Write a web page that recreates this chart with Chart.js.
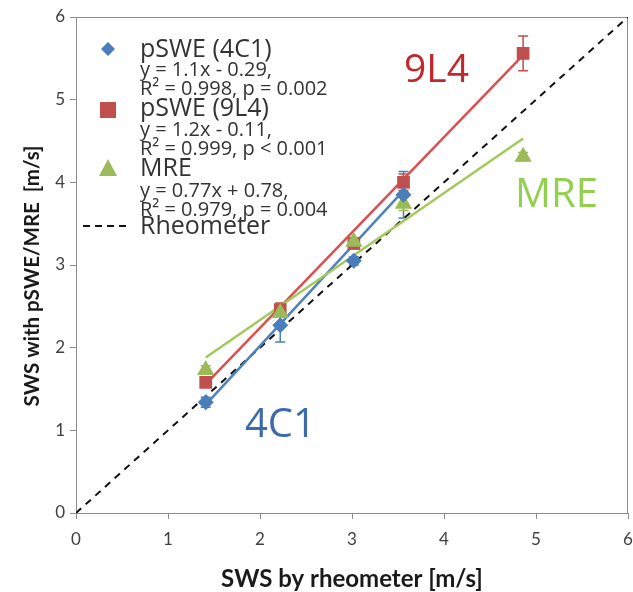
<!DOCTYPE html>
<html>
<head>
<meta charset="utf-8">
<script src="https://cdn.jsdelivr.net/npm/chart.js@4"></script>
<style>
  html, body { margin: 0; padding: 0; background: #fff; }
  #wrap { width: 633px; height: 592px; position: relative; }
</style>
</head>
<body>
<div id="wrap"><canvas id="c" width="633" height="592"></canvas></div>
<script>
// ---- data ----
const rheoX = [1.41, 2.22, 3.02, 3.56, 4.86];           // SWS by rheometer [m/s]
const swe4C1 = [1.34, 2.27, 3.05, 3.85];                  // pSWE (4C1), first 4 phantoms
const err4C1 = [0.06, 0.20, 0.05, 0.28];
const swe9L4 = [1.58, 2.46, 3.26, 4.00, 5.56];            // pSWE (9L4)
const err9L4 = [0.05, 0.08, 0.06, 0.10, 0.21];
const sweMRE = [1.73, 2.42, 3.28, 3.74, 4.31];            // MRE
const errMRE = [0.05, 0.05, 0.05, 0.08, 0.05];
// fitted trend line end points
const trend4C1X = [1.41, 3.56], trend4C1Y = [1.31, 3.90];
const trend9L4X = [1.41, 4.86], trend9L4Y = [1.56, 5.54];
const trendMREX = [1.41, 4.86], trendMREY = [1.88, 4.53];
const identityX = [0, 6], identityY = [0, 6];
const tickValues = [0, 1, 2, 3, 4, 5, 6];
const legendEntries = [
  { name: 'pSWE (4C1)', lines: ['y = 1.1x - 0.29,', 'R\u00B2 = 0.998, p = 0.002'] },
  { name: 'pSWE (9L4)', lines: ['y = 1.2x - 0.11,', 'R\u00B2 = 0.999, p < 0.001'] },
  { name: 'MRE', lines: ['y = 0.77x + 0.78,', 'R\u00B2 = 0.979, p = 0.004'] },
  { name: 'Rheometer', lines: [] }
];
const annotations = [
  { text: '9L4', color: '#C0282D' },
  { text: 'MRE', color: '#92D050' },
  { text: '4C1', color: '#3D6AA8' }
];

const BLUE = '#4A7EBB', RED = '#C0504D', GREEN = '#9BBB59';
const pts = (xs, ys) => ys.map((y, i) => ({ x: xs[i], y: y }));

const errorBars = {
  id: 'errorBars',
  beforeDatasetsDraw(chart) {
    const ctx = chart.ctx, xs = chart.scales.x, ys = chart.scales.y;
    const sets = [[swe4C1, err4C1, BLUE], [swe9L4, err9L4, RED], [sweMRE, errMRE, GREEN]];
    ctx.save();
    ctx.lineWidth = 1.5;
    sets.forEach(([vals, errs, col]) => {
      ctx.strokeStyle = col;
      vals.forEach((v, i) => {
        const px = xs.getPixelForValue(rheoX[i]);
        const t = ys.getPixelForValue(v + errs[i]);
        const b = ys.getPixelForValue(v - errs[i]);
        ctx.beginPath();
        ctx.moveTo(px, t); ctx.lineTo(px, b);
        ctx.moveTo(px - 5, t); ctx.lineTo(px + 5, t);
        ctx.moveTo(px - 5, b); ctx.lineTo(px + 5, b);
        ctx.stroke();
      });
    });
    ctx.restore();
  }
};

const frame = {
  id: 'frame',
  beforeDatasetsDraw(chart) {
    const a = chart.chartArea, ctx = chart.ctx;
    ctx.save();
    ctx.strokeStyle = '#8c8c8c';
    ctx.lineWidth = 1;
    ctx.strokeRect(a.left + 0.5, a.top + 0.5, a.right - a.left - 1, a.bottom - a.top);
    ctx.restore();
  }
};

const overlay = {
  id: 'overlay',
  afterDraw(chart) {
    const ctx = chart.ctx;
    ctx.save();
    // axis titles
    ctx.fillStyle = '#1a1a1a';
    ctx.textAlign = 'center';
    ctx.textBaseline = 'middle';
    ctx.font = 'bold 24px Lato, "Open Sans", sans-serif';
    ctx.fillText('SWS by rheometer [m/s]', 352, 579);
    ctx.save();
    ctx.translate(32, 276);
    ctx.rotate(-Math.PI / 2);
    ctx.font = 'bold 20.5px Lato, "Open Sans", sans-serif';
    ctx.fillText('SWS with pSWE/MRE  [m/s]', 0, 0);
    ctx.restore();

    // legend
    ctx.textAlign = 'left';
    ctx.textBaseline = 'alphabetic';
    ctx.fillStyle = '#333333';
    const tx = 140;
    const baselines = [[57, 76, 95], [116, 136, 155], [176, 197, 216], [234]];
    legendEntries.forEach((e, i) => {
      ctx.font = '25px "Open Sans", sans-serif';
      ctx.fillText(e.name, tx, baselines[i][0]);
      ctx.font = '20px "Open Sans", sans-serif';
      e.lines.forEach((l, j) => ctx.fillText(l, tx, baselines[i][j + 1]));
    });
    // legend markers
    ctx.fillStyle = BLUE;
    ctx.beginPath();
    ctx.moveTo(108, 42); ctx.lineTo(115, 49); ctx.lineTo(108, 56); ctx.lineTo(101, 49);
    ctx.closePath(); ctx.fill();
    ctx.fillStyle = RED;
    ctx.fillRect(100, 102, 16, 16);
    ctx.fillStyle = GREEN;
    ctx.beginPath();
    ctx.moveTo(108, 159); ctx.lineTo(117, 176); ctx.lineTo(99, 176);
    ctx.closePath(); ctx.fill();
    ctx.strokeStyle = '#111';
    ctx.lineWidth = 2;
    ctx.setLineDash([7, 5]);
    ctx.beginPath(); ctx.moveTo(83, 226); ctx.lineTo(131, 226); ctx.stroke();
    ctx.setLineDash([]);

    // annotations
    ctx.font = '39px "Open Sans", sans-serif';
    ctx.fillStyle = annotations[0].color;
    ctx.fillText(annotations[0].text, 404, 82);
    ctx.font = '40px "Open Sans", sans-serif';
    ctx.fillStyle = annotations[1].color;
    ctx.fillText(annotations[1].text, 515, 207);
    ctx.fillStyle = annotations[2].color;
    ctx.fillText(annotations[2].text, 245, 437);
    ctx.restore();
  }
};

new Chart(document.getElementById('c'), {
  type: 'scatter',
  data: {
    datasets: [
      { label: 'pSWE (4C1)', data: pts(rheoX, swe4C1), pointStyle: 'rectRot', pointRadius: 8,
        backgroundColor: BLUE, borderColor: BLUE, borderWidth: 0, order: 1 },
      { label: 'pSWE (9L4)', data: pts(rheoX, swe9L4), pointStyle: 'rect', pointRadius: 9,
        backgroundColor: RED, borderColor: RED, borderWidth: 0, order: 3 },
      { label: 'MRE', data: pts(rheoX, sweMRE), pointStyle: 'triangle', pointRadius: 10,
        backgroundColor: GREEN, borderColor: GREEN, borderWidth: 0, order: 2 },
      { label: 'trend 4C1', data: pts(trend4C1X, trend4C1Y), showLine: true, pointRadius: 0,
        borderColor: '#4F81BD', borderWidth: 2.5, order: 6 },
      { label: 'trend 9L4', data: pts(trend9L4X, trend9L4Y), showLine: true, pointRadius: 0,
        borderColor: '#D9514E', borderWidth: 2.5, order: 5 },
      { label: 'trend MRE', data: pts(trendMREX, trendMREY), showLine: true, pointRadius: 0,
        borderColor: '#A2C95C', borderWidth: 2.5, order: 4 },
      { label: 'Rheometer', data: pts(identityX, identityY), showLine: true, pointRadius: 0,
        borderColor: '#111', borderWidth: 2, borderDash: [7, 6], order: 7 }
    ]
  },
  options: {
    responsive: false,
    animation: false,
    layout: { autoPadding: false, padding: { left: 0, right: 5, top: 17, bottom: 0 } },
    plugins: { legend: { display: false }, tooltip: { enabled: false } },
    scales: {
      x: {
        type: 'linear', min: 0, max: 6,
        afterFit(s) { s.height = 79; s.paddingLeft = 0; s.paddingRight = 0; },
        afterBuildTicks(s) { s.ticks = tickValues.map(v => ({ value: v })); },
        grid: { drawOnChartArea: false, drawTicks: true, tickLength: 6, tickColor: '#8c8c8c' },
        border: { color: '#8c8c8c', width: 1 },
        ticks: { color: '#404040', font: { size: 17, family: 'Lato, sans-serif' }, padding: 10 }
      },
      y: {
        type: 'linear', min: 0, max: 6,
        afterFit(s) { s.width = 76; s.paddingTop = 0; s.paddingBottom = 0; },
        afterBuildTicks(s) { s.ticks = tickValues.map(v => ({ value: v })); },
        grid: { drawOnChartArea: false, drawTicks: true, tickLength: 6, tickColor: '#8c8c8c' },
        border: { color: '#8c8c8c', width: 1 },
        ticks: { color: '#404040', font: { size: 17, family: 'Lato, sans-serif' }, padding: 5 }
      }
    }
  },
  plugins: [frame, errorBars, overlay]
});
</script>
</body>
</html>
